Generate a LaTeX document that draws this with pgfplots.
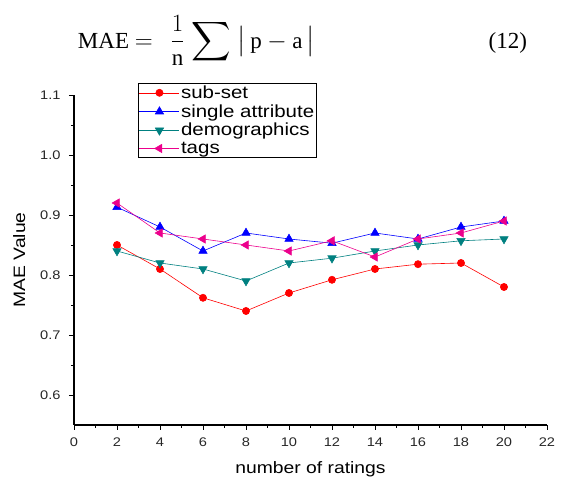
\documentclass[border=0pt]{standalone}
\usepackage{amsmath}
\usepackage{exscale}
\usepackage{pgfplots}
\pgfplotsset{compat=1.18}
\usepackage[no-math]{fontspec}
\setmainfont{Liberation Sans}[FakeStretch=1.17]
\newfontfamily\eqfont{Liberation Serif}
\definecolor{dteal}{RGB}{0,128,128}

\begin{document}
\begin{tikzpicture}[x=1pt,y=1pt]
\begin{axis}[
  scale only axis,
  width=473pt, height=330pt,
  xmin=0, xmax=22, ymin=0.55, ymax=1.1,
  axis x line*=bottom, axis y line*=left,
  axis line style={line width=1.1pt},
  xtick={0,2,...,22}, ytick={0.6,0.7,...,1.1},
  minor x tick num=1, minor y tick num=1,
  tick align=outside,
  major tick length=5pt, minor tick length=3pt,
  tick style={black, line width=0.9pt},
  yticklabel style={/pgf/number format/fixed, /pgf/number format/precision=1, /pgf/number format/fixed zerofill, xshift=-5pt},
  xticklabel style={yshift=-4pt},
  /pgf/number format/assume math mode=true,
  ticklabel style={font=\fontsize{12.5}{14}\selectfont, color=black!85},
  xlabel={number of ratings}, ylabel={MAE Value},
  label style={font=\fontsize{16.5}{18}\selectfont},
  xlabel style={yshift=-8pt},
  ylabel style={yshift=8pt},
  clip=false,
  legend cell align=left,
  legend style={at={(rel axis cs:0.135,1.036)}, anchor=north west,
    draw=black, line width=0.6pt, fill=white, font=\fontsize{17.5}{19}\selectfont,
    inner sep=1pt, row sep=2pt, nodes={inner sep=1.3pt}},
  legend image code/.code={\draw[mark repeat=2,mark phase=2]
    plot coordinates {(0pt,0pt)(20pt,0pt)(40pt,0pt)};},
]
\addplot[red, line width=0.6pt, mark=*, mark size=3.6pt]
  coordinates {(2,0.85)(4,0.81)(6,0.762)(8,0.74)(10,0.77)(12,0.792)(14,0.81)(16,0.818)(18,0.82)(20,0.78)};
\addlegendentry{sub-set}
\addplot[blue, line width=0.6pt, mark=triangle*, mark size=4.8pt]
  coordinates {(2,0.913)(4,0.88)(6,0.84)(8,0.87)(10,0.86)(12,0.853)(14,0.87)(16,0.86)(18,0.88)(20,0.89)};
\addlegendentry{single attribute}
\addplot[dteal, line width=0.6pt, mark=triangle*, mark size=4.8pt, mark options={rotate=180}]
  coordinates {(2,0.84)(4,0.82)(6,0.81)(8,0.79)(10,0.82)(12,0.828)(14,0.84)(16,0.85)(18,0.857)(20,0.86)};
\addlegendentry{demographics}
\addplot[magenta, line width=0.6pt, mark=triangle*, mark size=4.8pt, mark options={rotate=90}]
  coordinates {(2,0.92)(4,0.87)(6,0.86)(8,0.85)(10,0.84)(12,0.857)(14,0.83)(16,0.86)(18,0.87)(20,0.89)};
\addlegendentry{tags}
\node[anchor=base west, font=\eqfont\fontsize{23}{27}\selectfont, inner sep=0pt]
  at (rel axis cs:0.008,1.142) {MAE $\displaystyle = \;\, \frac{1}{\text{n}}\;\vcenter{\hbox{\scalebox{1.1}{$\displaystyle\sum$}}}\;\bigl|\,\text{p}-\text{a}\,\bigr|$};
\node[anchor=base east, font=\eqfont\fontsize{23}{27}\selectfont, inner sep=0pt]
  at (rel axis cs:0.958,1.142) {(12)};
\coordinate (bl) at (rel axis cs:0,0);
\coordinate (tr) at (rel axis cs:1,1);
\end{axis}
\pgfresetboundingbox
\path ([shift={(-74pt,-52pt)}]bl) rectangle ([shift={(16pt,95pt)}]tr);
\end{tikzpicture}
\end{document}
